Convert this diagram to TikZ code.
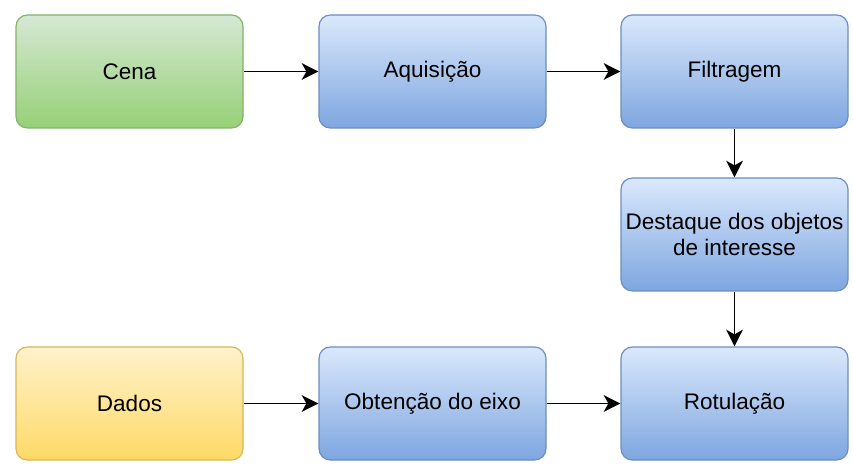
\documentclass[tikz,border=0pt]{standalone}
\usepackage{fontspec}
\setmainfont{Liberation Sans}
\usetikzlibrary{positioning}
\usetikzlibrary{arrows.meta}
\definecolor{greentop}{HTML}{D5E8D4}
\definecolor{greenbot}{HTML}{97D077}
\definecolor{greenline}{HTML}{82B366}
\definecolor{bluetop}{HTML}{DAE8FC}
\definecolor{bluebot}{HTML}{7EA6E0}
\definecolor{blueline}{HTML}{6C8EBF}
\definecolor{yellowtop}{HTML}{FFF2CC}
\definecolor{yellowbot}{HTML}{FFD966}
\definecolor{yellowline}{HTML}{D6B656}

\begin{document}
\begin{tikzpicture}[
  x=0.75pt, y=-0.75pt,
  box/.style = {rounded corners=8.5pt, line width=0.9pt,
    minimum width=170.25pt, minimum height=84.75pt, inner sep=2pt,
    align=center, font=\fontsize{16.9}{19}\selectfont},
  start/.style = {box, draw=greenline, top color=greentop, bottom color=greenbot},
  stage/.style = {box, draw=blueline, top color=bluetop, bottom color=bluebot},
  input/.style = {box, draw=yellowline, top color=yellowtop, bottom color=yellowbot},
  flow/.style = {line width=1.4pt, -{Stealth[length=12.5pt, width=12.5pt, inset=3.5pt]}},
]

  \useasboundingbox (0,0) rectangle (853,470);

  % top row
  \node[start] (cena) at (129.5,71.5) {Cena};
  \node[stage] (aquisicao) at (432.5,71.5) {Aquisição};
  \node[stage] (filtragem) at (734.5,71.5) {Filtragem};

  \node[stage] (destaque) at (734.5,234.5) {Destaque dos objetos\\de interesse};

  % bottom row
  \node[input] (dados) at (129.5,403.5) {Dados};
  \node[stage] (obtencao) at (432.5,403.5) {Obtenção do eixo};
  \node[stage] (rotulacao) at (734.5,403.5) {Rotulação};

  \draw[flow] (cena) -- (aquisicao);
  \draw[flow] (aquisicao) -- (filtragem);
  \draw[flow] (filtragem) -- (destaque);
  \draw[flow] (destaque) -- (rotulacao);
  \draw[flow] (dados) -- (obtencao);
  \draw[flow] (obtencao) -- (rotulacao);

\end{tikzpicture}
\end{document}
